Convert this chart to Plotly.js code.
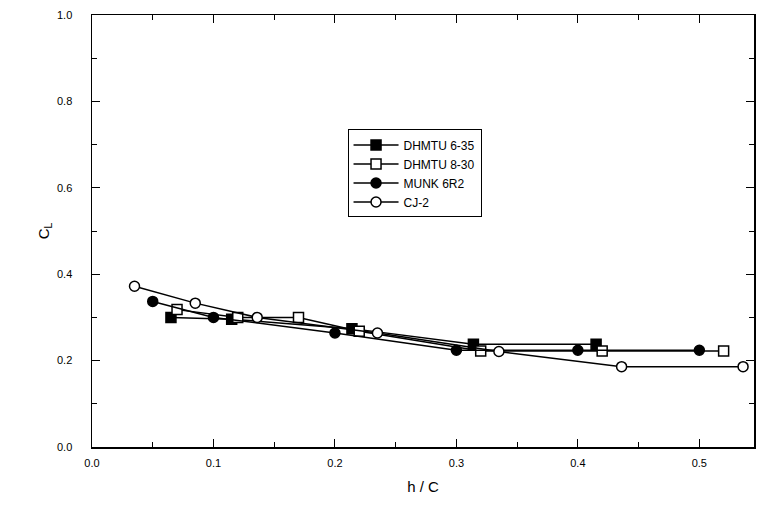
<!DOCTYPE html>
<html>
<head>
<meta charset="utf-8">
<script src="https://cdn.plot.ly/plotly-3.0.1.min.js"></script>
<style>html,body{margin:0;padding:0;background:#fff;}#chart{width:758px;height:508px;}</style>
</head>
<body>
<div id="chart"></div>
<script>
// Series data
const seriesNames = ["DHMTU 6-35", "DHMTU 8-30", "MUNK 6R2", "CJ-2"];

const dhmtu635_x = [0.065, 0.115, 0.214, 0.314, 0.415];
const dhmtu635_y = [0.300, 0.296, 0.274, 0.238, 0.238];

const dhmtu830_x = [0.070, 0.120, 0.170, 0.220, 0.320, 0.420, 0.520];
const dhmtu830_y = [0.318, 0.300, 0.300, 0.268, 0.222, 0.222, 0.222];

const munk_x = [0.050, 0.100, 0.200, 0.300, 0.400, 0.500];
const munk_y = [0.337, 0.300, 0.264, 0.224, 0.224, 0.224];

const cj2_x = [0.035, 0.085, 0.136, 0.235, 0.335, 0.436, 0.536];
const cj2_y = [0.372, 0.333, 0.300, 0.264, 0.221, 0.186, 0.186];

const xTickVals = [0, 0.1, 0.2, 0.3, 0.4, 0.5];
const xTickText = ["0.0", "0.1", "0.2", "0.3", "0.4", "0.5"];
const yTickVals = [0, 0.2, 0.4, 0.6, 0.8, 1.0];
const yTickText = ["0.0", "0.2", "0.4", "0.6", "0.8", "1.0"];

const font = "Liberation Sans, Arial, sans-serif";

function mk(x, y, name, symbol, fill) {
  return {
    x: x, y: y, name: name, type: "scatter", mode: "lines+markers",
    line: {color: "#000", width: 1.5},
    marker: {symbol: symbol, size: 10, color: fill,
             line: {color: "#000", width: 1.5}}
  };
}

const data = [
  mk(dhmtu635_x, dhmtu635_y, seriesNames[0], "square", "#000"),
  mk(dhmtu830_x, dhmtu830_y, seriesNames[1], "square", "#fff"),
  mk(munk_x, munk_y, seriesNames[2], "circle", "#000"),
  mk(cj2_x, cj2_y, seriesNames[3], "circle", "#fff")
];

const layout = {
  width: 758, height: 508,
  paper_bgcolor: "#fff", plot_bgcolor: "#fff",
  margin: {l: 92, r: 4, t: 15, b: 61},
  font: {family: font, color: "#000", size: 11},
  showlegend: true,
  legend: {
    x: 0.386, y: 0.735, xanchor: "left", yanchor: "top",
    bgcolor: "#fff", bordercolor: "#000", borderwidth: 1,
    font: {family: font, size: 12, color: "#000"},
    itemwidth: 45,
    tracegroupgap: 0
  },
  xaxis: {
    range: [0, 0.545], showgrid: false, zeroline: false,
    showline: true, linecolor: "#000", linewidth: 1.5, mirror: "allticks",
    ticks: "inside", ticklen: 8, tickcolor: "#000", tickwidth: 1,
    tickvals: xTickVals, ticktext: xTickText,
    minor: {ticks: "inside", ticklen: 5, dtick: 0.05, tick0: 0, tickcolor: "#000", tickwidth: 1},
    tickfont: {family: font, size: 11}, ticklabelstandoff: 5,
    title: {text: "h / C", font: {family: font, size: 15}, standoff: 14}
  },
  yaxis: {
    range: [0, 1.0], showgrid: false, zeroline: false,
    showline: true, linecolor: "#000", linewidth: 1.5, mirror: "allticks",
    ticks: "inside", ticklen: 8, tickcolor: "#000", tickwidth: 1,
    tickvals: yTickVals, ticktext: yTickText,
    minor: {ticks: "inside", ticklen: 5, dtick: 0.1, tick0: 0, tickcolor: "#000", tickwidth: 1},
    tickfont: {family: font, size: 11}, ticklabelstandoff: 16,
    title: {text: "C<sub>L</sub>", font: {family: font, size: 15}, standoff: 4}
  }
};

Plotly.newPlot("chart", data, layout, {displayModeBar: false, staticPlot: true});
</script>
</body>
</html>
